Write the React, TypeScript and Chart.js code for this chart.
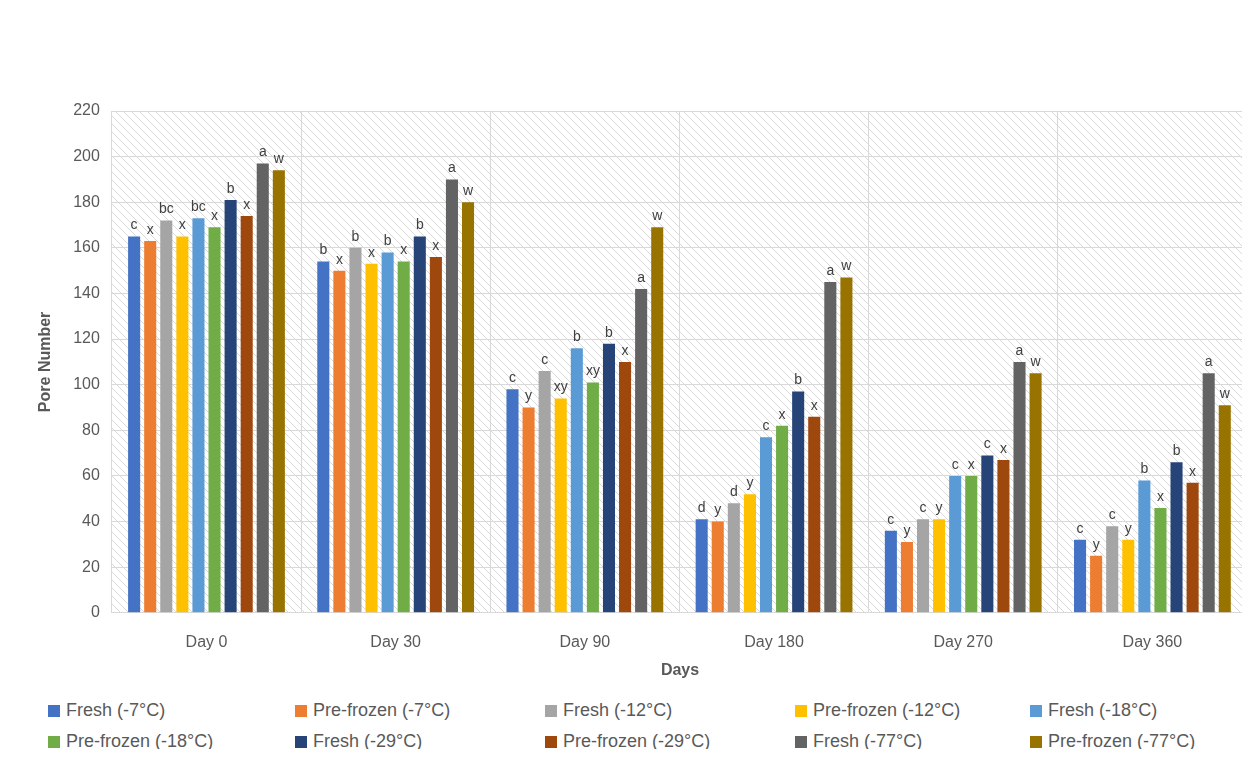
import { useEffect, useRef } from "react";
import Chart from "chart.js/auto";

const days = ["Day 0", "Day 30", "Day 90", "Day 180", "Day 270", "Day 360"];
const seriesNames = [
  "Fresh (-7°C)", "Pre-frozen (-7°C)", "Fresh (-12°C)", "Pre-frozen (-12°C)", "Fresh (-18°C)",
  "Pre-frozen (-18°C)", "Fresh (-29°C)", "Pre-frozen (-29°C)", "Fresh (-77°C)", "Pre-frozen (-77°C)",
];
const colors = ["#4472C4", "#ED7D31", "#A5A5A5", "#FFC000", "#5B9BD5", "#70AD47", "#264478", "#9E480E", "#636363", "#997300"];
// values[series][day]
const values = [
  [165, 154, 98, 41, 36, 32],
  [163, 150, 90, 40, 31, 25],
  [172, 160, 106, 48, 41, 38],
  [165, 153, 94, 52, 41, 32],
  [173, 158, 116, 77, 60, 58],
  [169, 154, 101, 82, 60, 46],
  [181, 165, 118, 97, 69, 66],
  [174, 156, 110, 86, 67, 57],
  [197, 190, 142, 145, 110, 105],
  [194, 180, 169, 147, 105, 91],
];
// letters[series][day]
const letters = [
  ["c", "b", "c", "d", "c", "c"],
  ["x", "x", "y", "y", "y", "y"],
  ["bc", "b", "c", "d", "c", "c"],
  ["x", "x", "xy", "y", "y", "y"],
  ["bc", "b", "b", "c", "c", "b"],
  ["x", "x", "xy", "x", "x", "x"],
  ["b", "b", "b", "b", "c", "b"],
  ["x", "x", "x", "x", "x", "x"],
  ["a", "a", "a", "a", "a", "a"],
  ["w", "w", "w", "w", "w", "w"],
];

const FONT = "'Liberation Sans', Arial, sans-serif";

export default function App() {
  const ref = useRef<HTMLCanvasElement>(null);

  useEffect(() => {
    if (!ref.current) return;
    const hatch = {
      id: "hatch",
      beforeDraw(chart: any) {
        const { ctx, chartArea: a } = chart;
        const p = document.createElement("canvas");
        p.width = 8;
        p.height = 8;
        const pc = p.getContext("2d")!;
        pc.strokeStyle = "#d9d9d9";
        pc.lineWidth = 1;
        pc.beginPath();
        pc.moveTo(0, 0); pc.lineTo(8, 8);
        pc.moveTo(-4, 4); pc.lineTo(4, 12);
        pc.moveTo(4, -4); pc.lineTo(12, 4);
        pc.stroke();
        ctx.save();
        ctx.fillStyle = ctx.createPattern(p, "repeat");
        ctx.fillRect(a.left, a.top, a.right - a.left, a.bottom - a.top);
        ctx.restore();
      },
    };
    const labels = {
      id: "letters",
      afterDatasetsDraw(chart: any) {
        const ctx = chart.ctx;
        ctx.save();
        ctx.font = `14px ${FONT}`;
        ctx.fillStyle = "#404040";
        ctx.textAlign = "center";
        ctx.textBaseline = "bottom";
        chart.data.datasets.forEach((_: any, i: number) => {
          chart.getDatasetMeta(i).data.forEach((bar: any, j: number) => {
            ctx.fillText(letters[i][j], bar.x, bar.y - 4);
          });
        });
        ctx.restore();
      },
    };
    const chart = new Chart(ref.current, {
      type: "bar",
      data: {
        labels: days,
        datasets: seriesNames.map((n, i) => ({
          label: n,
          data: values[i],
          backgroundColor: colors[i],
          barPercentage: 0.75,
          categoryPercentage: 0.85,
        })),
      },
      options: {
        animation: false,
        responsive: false,
        layout: { padding: { top: 111, right: 2, left: 26 } },
        plugins: { legend: { display: false }, tooltip: { enabled: false } },
        scales: {
          x: {
            grid: { color: "#d9d9d9", offset: true, drawTicks: false },
            border: { color: "#d9d9d9" },
            ticks: { color: "#595959", font: { size: 16, family: FONT }, padding: 20 },
          },
          y: {
            min: 0,
            max: 220,
            ticks: { stepSize: 20, color: "#595959", font: { size: 16, family: FONT }, padding: 12 },
            grid: { color: "#d9d9d9", drawTicks: false },
            border: { display: false },
            title: { display: true, text: "Pore Number", color: "#595959", font: { size: 16, weight: "bold", family: FONT }, padding: 6 },
          },
        },
      },
      plugins: [hatch, labels],
    });
    return () => chart.destroy();
  }, []);

  const legendX = [48, 295, 545, 795, 1030];
  return (
    <div style={{ position: "relative", width: 1242, height: 757, margin: -8, fontFamily: FONT }}>
      <div style={{ position: "absolute", left: 4, top: 4, width: 1244, height: 749, border: "1px solid #d9d9d9" }} />
      <canvas ref={ref} width={1245} height={672} style={{ position: "absolute", left: 4, top: 0 }} />
      <div style={{ position: "absolute", left: 0, width: 1360, top: 661, textAlign: "center", fontSize: 16, fontWeight: "bold", color: "#595959" }}>
        Days
      </div>
      {seriesNames.map((n, i) => (
        <div
          key={n}
          style={{
            position: "absolute",
            left: legendX[i % 5],
            top: i < 5 ? 700 : 731,
            display: "flex",
            alignItems: "center",
            fontSize: 18,
            color: "#595959",
            whiteSpace: "nowrap",
          }}
        >
          <span style={{ width: 12, height: 12, background: colors[i], marginRight: 6, display: "inline-block" }} />
          {n}
        </div>
      ))}
    </div>
  );
}
